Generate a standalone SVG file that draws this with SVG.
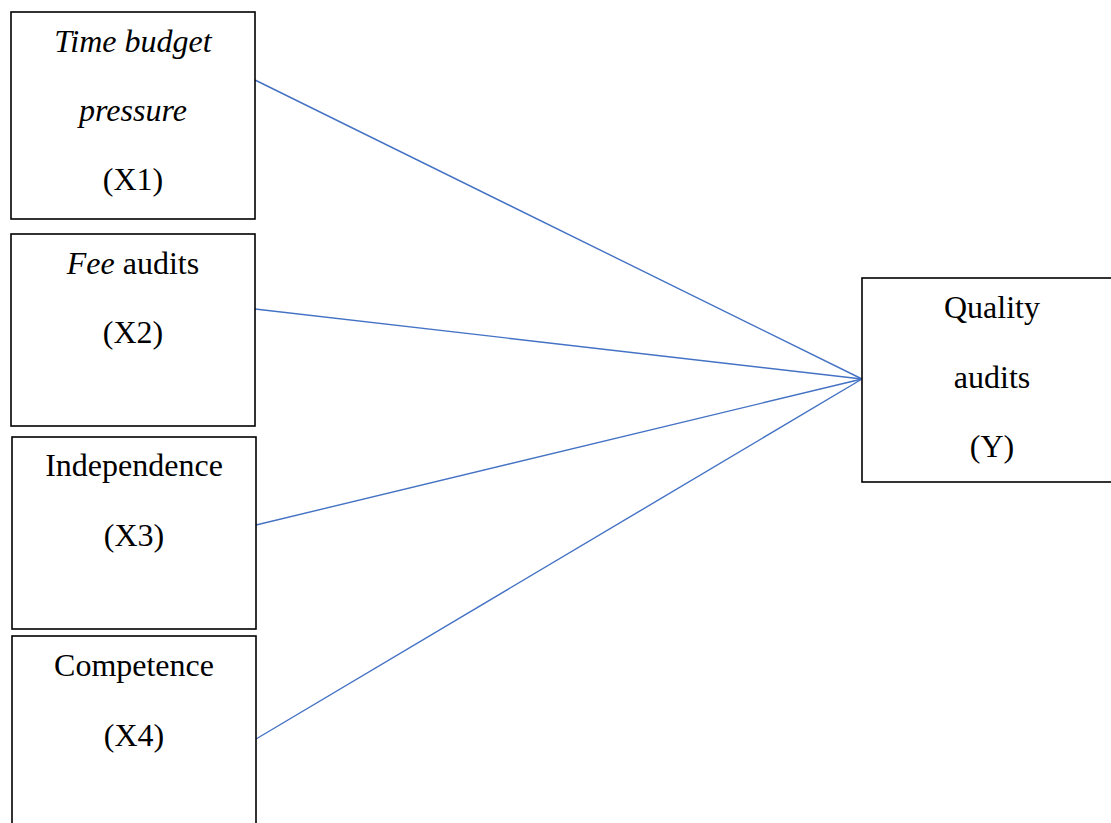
<svg xmlns="http://www.w3.org/2000/svg" width="1111" height="823" viewBox="0 0 1111 823">
<style>
.box{fill:#fff;stroke:#000;stroke-width:1.6}
.t{font-family:"Liberation Serif","Times New Roman",serif;font-size:32px;fill:#000;text-anchor:middle}
.i{font-style:italic}
.c{stroke:#4472C4;stroke-width:1.4;fill:none}
</style>
<rect width="1111" height="823" fill="#fff"/>
<g id="connectors">
<line class="c" x1="255" y1="80" x2="862" y2="379"/>
<line class="c" x1="255" y1="309" x2="862" y2="379"/>
<line class="c" x1="256" y1="525" x2="862" y2="379"/>
<line class="c" x1="256" y1="739" x2="862" y2="379"/>
</g>
<g id="x1">
<rect class="box" x="11" y="12" width="244" height="207"/>
<text class="t i" x="133" y="52">Time budget</text>
<text class="t i" x="133" y="121">pressure</text>
<text class="t" x="133" y="190">(X1)</text>
</g>
<g id="x2">
<rect class="box" x="11" y="234" width="244" height="192"/>
<text class="t" x="133" y="274"><tspan class="i">Fee</tspan> audits</text>
<text class="t" x="133" y="343">(X2)</text>
</g>
<g id="x3">
<rect class="box" x="12" y="437" width="244" height="192"/>
<text class="t" x="134" y="476">Independence</text>
<text class="t" x="134" y="546">(X3)</text>
</g>
<g id="x4">
<rect class="box" x="12" y="636" width="244" height="200"/>
<text class="t" x="134" y="676">Competence</text>
<text class="t" x="134" y="746">(X4)</text>
</g>
<g id="y">
<rect class="box" x="862" y="278" width="260" height="204"/>
<text class="t" x="992" y="318">Quality</text>
<text class="t" x="992" y="388">audits</text>
<text class="t" x="992" y="457">(Y)</text>
</g>
</svg>
